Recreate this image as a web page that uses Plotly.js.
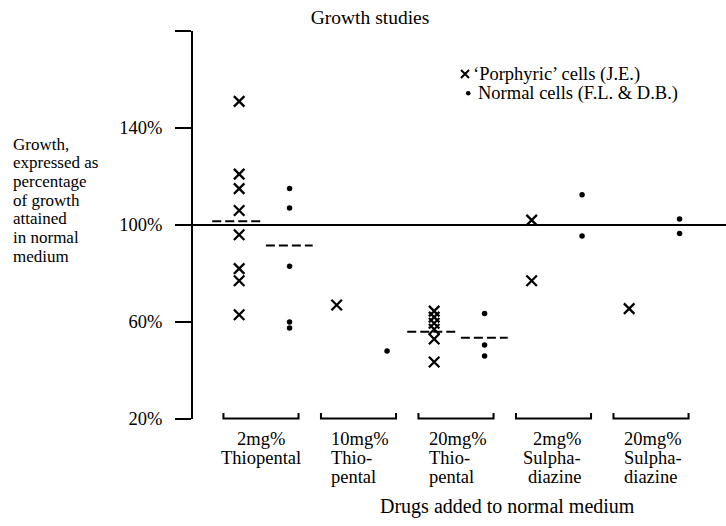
<!DOCTYPE html>
<html><head><meta charset="utf-8">
<script src="https://cdn.plot.ly/plotly-3.0.1.min.js"></script>
<style>html,body{margin:0;padding:0;background:#fff;}</style>
</head><body><div id="chart" style="width:726px;height:526px;"></div>
<script>
// ---- data ----
const categories = [
  ["2mg%", "Thiopental"],
  ["10mg%", "Thio-", "pental"],
  ["20mg%", "Thio-", "pental"],
  ["2mg%", "Sulpha-", "diazine"],
  ["20mg%", "Sulpha-", "diazine"]
];
const porphyricGroup  = [0,0,0,0,0,0,0,0, 1, 2,2,2,2,2,2, 3,3, 4];
const porphyricValues = [151,121,115,106,96,82,77,63, 67, 64.5,62,59.5,57,53,43.5, 102,77, 65.5];
const normalGroup  = [0,0,0,0,0, 1, 2,2,2, 3,3, 4,4];
const normalValues = [115,107,83,60,57.5, 48, 63.5,50.5,46, 112.5,95.5, 102.5,96.5];
const meanGroup     = [0, 2];
const porphyricMean = [101.5, 56];
const normalMean    = [91.5, 53.5];
const yTickValues = [20, 60, 100, 140, 180];
const yTickLabels = ["20%", "60%", "100%", "140%", ""];
const referenceLevel = 100;
const chartTitle = "Growth studies";
const xTitle = "Drugs added to normal medium";
const yTitleLines = ["Growth,", "expressed as", "percentage", "of growth", "attained", "in normal", "medium"];
const legendLabels = ["‘Porphyric’ cells (J.E.)", "Normal cells (F.L. & D.B.)"];

// ---- layout geometry ----
const FONT = "Liberation Serif, Times New Roman, serif";
const L = 193, T = 31, W = 533, H = 388, FW = 726, FH = 526;
const unit = 97.5, firstCenter = 261;
const xRange = [(L - firstCenter) / unit, (L + W - firstCenter) / unit];
const crossOff = -0.224, dotOff = 0.293, bracketHalf = 0.385;
const px = x => (x - L) / W;
const py = y => (T + H - y) / H;

const traces = [
  {
    type: "scatter", mode: "markers", name: "Porphyric",
    x: porphyricGroup.map(g => g + crossOff), y: porphyricValues,
    marker: {symbol: "x-thin", size: 10.5, color: "black", line: {color: "black", width: 2.3}},
    cliponaxis: false
  },
  {
    type: "scatter", mode: "markers", name: "Normal",
    x: normalGroup.map(g => g + dotOff), y: normalValues,
    marker: {symbol: "circle", size: 5.5, color: "black"},
    cliponaxis: false
  }
];
const mx = [], my = [], nx = [], ny = [];
meanGroup.forEach((g, i) => {
  mx.push(g - 0.5, g + 0.01, null); my.push(porphyricMean[i], porphyricMean[i], null);
  nx.push(g + 0.05, g + 0.53, null); ny.push(normalMean[i], normalMean[i], null);
});
traces.push({type: "scatter", mode: "lines", x: mx, y: my, line: {color: "black", width: 2, dash: "9px,4px"}, hoverinfo: "skip"});
traces.push({type: "scatter", mode: "lines", x: nx, y: ny, line: {color: "black", width: 2, dash: "9px,4px"}, hoverinfo: "skip"});

const shapes = [
  {type: "line", xref: "paper", yref: "y", x0: px(177), x1: 1, y0: referenceLevel, y1: referenceLevel,
   line: {color: "black", width: 2}}
];
const bTop = py(413), bBot = py(418.5);
categories.forEach((c, i) => {
  const a = i - bracketHalf, b = i + bracketHalf;
  shapes.push({type: "path", xref: "x", yref: "paper",
    path: `M ${a},${bTop} L ${a},${bBot} L ${b},${bBot} L ${b},${bTop}`,
    line: {color: "black", width: 2}});
});
// legend swatches
shapes.push({type: "path", xref: "paper", yref: "paper",
  path: `M ${px(461)},${py(70)} L ${px(469)},${py(78)} M ${px(461)},${py(78)} L ${px(469)},${py(70)}`,
  line: {color: "black", width: 2}});
shapes.push({type: "circle", xref: "paper", yref: "paper",
  x0: px(466), x1: px(470.5), y0: py(95.5), y1: py(91), fillcolor: "black", line: {color: "black", width: 0}});

const annotations = [];
yTitleLines.forEach((t, k) => {
  annotations.push({text: t, xref: "paper", yref: "paper", x: px(11), y: py(144 + k * 18.7),
    xanchor: "left", yanchor: "middle", showarrow: false, font: {family: FONT, size: 17, color: "black"}});
});
const catAlign = ["center", "left", "left", "right", "left"];
categories.forEach((lines, i) => {
  lines.forEach((t, j) => {
    let x = i, xa = "center";
    if (catAlign[i] === "left") { x = i - 29.5 / unit; xa = "left"; }
    if (catAlign[i] === "right") { x = i + 29.5 / unit; xa = "right"; }
    annotations.push({text: t, xref: "x", yref: "paper", x: x, y: py(438.5 + j * 19.2),
      xanchor: xa, yanchor: "middle", showarrow: false, font: {family: FONT, size: 18.5, color: "black"}});
  });
});
annotations.push({text: xTitle, xref: "paper", yref: "paper", x: px(507), y: py(506),
  xanchor: "center", yanchor: "middle", showarrow: false, font: {family: FONT, size: 20, color: "black"}});
annotations.push({text: legendLabels[0], xref: "paper", yref: "paper", x: px(471), y: py(74),
  xanchor: "left", yanchor: "middle", showarrow: false, font: {family: FONT, size: 18.5, color: "black"}});
annotations.push({text: legendLabels[1], xref: "paper", yref: "paper", x: px(476), y: py(93.3),
  xanchor: "left", yanchor: "middle", showarrow: false, font: {family: FONT, size: 18.5, color: "black"}});

const layout = {
  width: FW, height: FH,
  margin: {l: L, r: FW - L - W, t: T, b: FH - T - H, pad: 0},
  paper_bgcolor: "white", plot_bgcolor: "white",
  font: {family: FONT, color: "black"},
  showlegend: false,
  title: {text: chartTitle, x: 370 / FW, xref: "container", xanchor: "center",
          y: 1 - 17 / FH, yref: "container", yanchor: "middle", font: {family: FONT, size: 19.5, color: "black"}},
  xaxis: {range: xRange, visible: false, fixedrange: true},
  yaxis: {range: [20, 180], tickmode: "array", tickvals: yTickValues, ticktext: yTickLabels,
          ticks: "outside", ticklen: 16, tickwidth: 2, tickcolor: "black",
          showline: true, linewidth: 2, linecolor: "black", showgrid: false, zeroline: false,
          tickfont: {family: FONT, size: 18.5, color: "black"}, ticklabelstandoff: 9, fixedrange: true},
  shapes: shapes,
  annotations: annotations
};
Plotly.newPlot("chart", traces, layout, {displayModeBar: false, staticPlot: true});
</script></body></html>
